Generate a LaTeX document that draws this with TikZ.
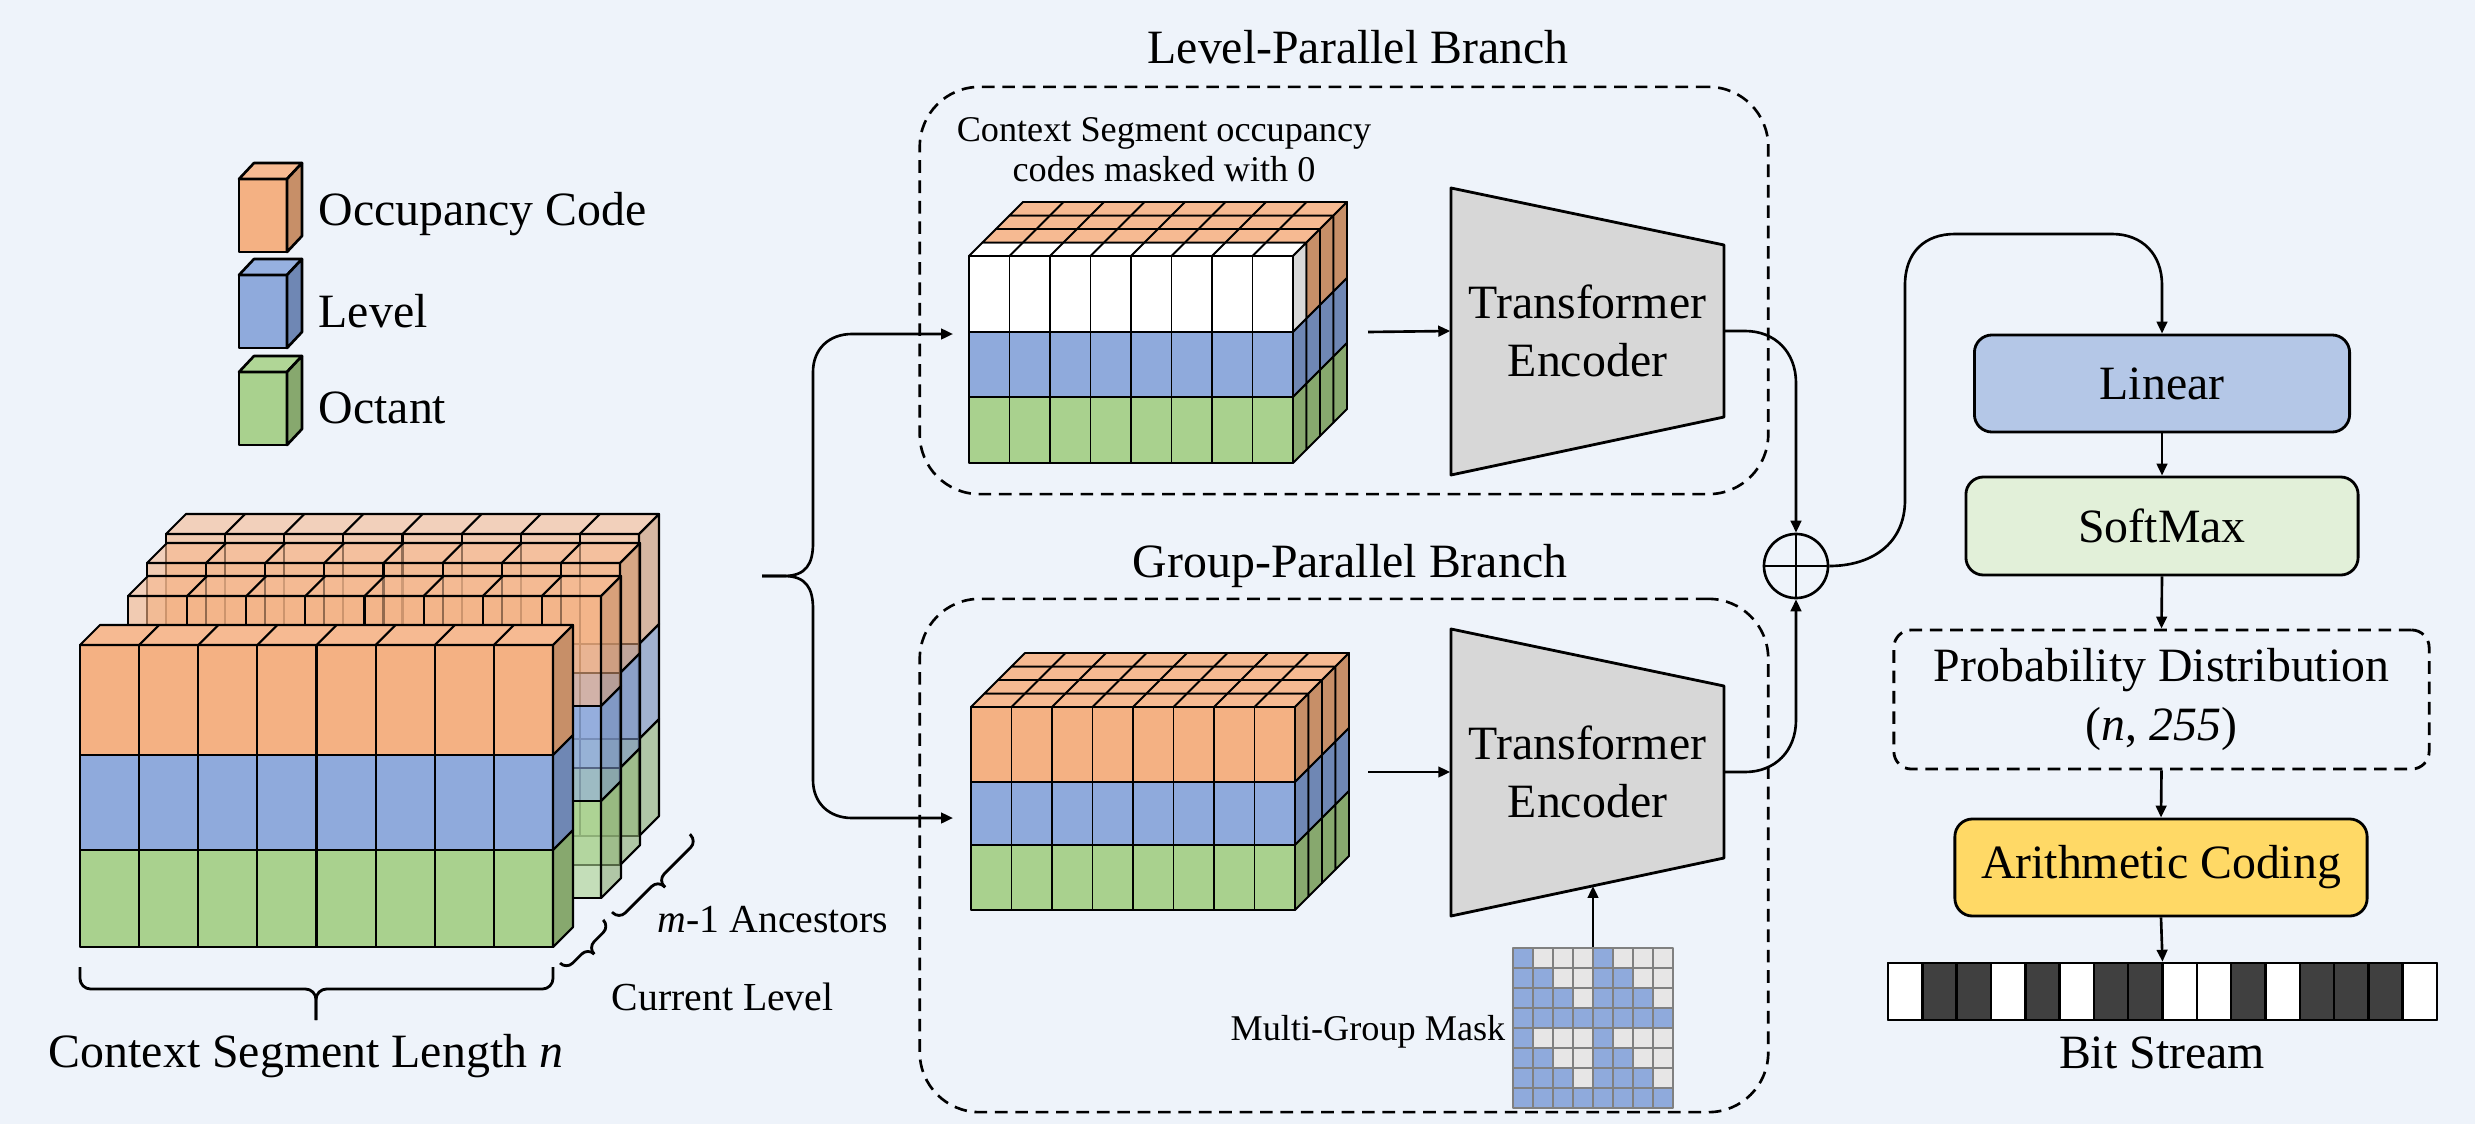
\documentclass[tikz,border=0pt]{standalone}
\usepackage{fontspec}
\setmainfont{Liberation Serif}
\usetikzlibrary{arrows.meta}

\definecolor{bg}{RGB}{238,243,250}
\definecolor{ocF}{RGB}{244,177,131}
\definecolor{ocT}{RGB}{246,186,146}
\definecolor{ocS}{RGB}{199,143,104}
\definecolor{lvF}{RGB}{143,170,220}
\definecolor{lvT}{RGB}{150,176,224}
\definecolor{lvS}{RGB}{111,135,180}
\definecolor{otF}{RGB}{169,209,142}
\definecolor{otT}{RGB}{176,214,150}
\definecolor{otS}{RGB}{135,168,110}
\definecolor{maskS}{RGB}{217,217,217}
\definecolor{linF}{RGB}{180,199,231}
\definecolor{smF}{RGB}{226,240,217}
\definecolor{acF}{RGB}{255,217,102}
\definecolor{encF}{RGB}{215,215,215}
\definecolor{bitD}{RGB}{64,64,64}
\definecolor{gridL}{RGB}{128,128,128}
\definecolor{mskB}{RGB}{143,170,220}
\definecolor{mskW}{RGB}{231,230,230}

\newcommand\txtL{\fontsize{13.6}{16.5}\selectfont}
\newcommand\txtM{\fontsize{11.3}{13.5}\selectfont}
\newcommand\txtS{\fontsize{10.3}{11.4}\selectfont}

% layer heights and colours of the occupancy layer (front slice)
\def\hA{110}\def\hB{95}\def\hC{97}
\def\topF{ocF}\def\topT{ocT}\def\topS{ocS}

% a block of columns: x0, y0 (top of front face), column width, columns, slice depth, slices
\newcommand\cubeblock[6]{%
  \pgfmathsetmacro\bxa{#1}%
  \pgfmathsetmacro\bya{#2}%
  \pgfmathsetmacro\bcw{#3}%
  \pgfmathtruncatemacro\bnc{#4}%
  \pgfmathsetmacro\bdd{#5}%
  \pgfmathtruncatemacro\bns{#6-1}%
  \pgfmathsetmacro\byb{\bya+\hA}%
  \pgfmathsetmacro\byc{\byb+\hB}%
  \pgfmathsetmacro\byd{\byc+\hC}%
  \pgfmathsetmacro\bxr{\bxa+\bnc*\bcw}%
  \pgfmathtruncatemacro\bncm{\bnc-1}%
  \filldraw[fill=\topF] (\bxa,\bya) rectangle (\bxr,\byb);
  \filldraw[fill=lvF] (\bxa,\byb) rectangle (\bxr,\byc);
  \filldraw[fill=otF] (\bxa,\byc) rectangle (\bxr,\byd);
  \foreach \ci in {1,...,\bncm} \draw ({\bxa+\ci*\bcw},\bya) -- ({\bxa+\ci*\bcw},\byd);
  \foreach \si in {0,...,\bns} {
    \ifnum\si=0 \edef\tfc{\topT}\edef\sfc{\topS}\else\def\tfc{ocT}\def\sfc{ocS}\fi
    \filldraw[fill=\tfc] ({\bxa+\si*\bdd},{\bya-\si*\bdd}) -- ({\bxr+\si*\bdd},{\bya-\si*\bdd})
      -- ({\bxr+(\si+1)*\bdd},{\bya-(\si+1)*\bdd}) -- ({\bxa+(\si+1)*\bdd},{\bya-(\si+1)*\bdd}) -- cycle;
    \foreach \ci in {1,...,\bncm} \draw ({\bxa+\ci*\bcw+\si*\bdd},{\bya-\si*\bdd}) -- ++(\bdd,-\bdd);
    \filldraw[fill=\sfc] ({\bxr+\si*\bdd},{\bya-\si*\bdd}) -- ({\bxr+(\si+1)*\bdd},{\bya-(\si+1)*\bdd})
      -- ({\bxr+(\si+1)*\bdd},{\byb-(\si+1)*\bdd}) -- ({\bxr+\si*\bdd},{\byb-\si*\bdd}) -- cycle;
    \filldraw[fill=lvS] ({\bxr+\si*\bdd},{\byb-\si*\bdd}) -- ({\bxr+(\si+1)*\bdd},{\byb-(\si+1)*\bdd})
      -- ({\bxr+(\si+1)*\bdd},{\byc-(\si+1)*\bdd}) -- ({\bxr+\si*\bdd},{\byc-\si*\bdd}) -- cycle;
    \filldraw[fill=otS] ({\bxr+\si*\bdd},{\byc-\si*\bdd}) -- ({\bxr+(\si+1)*\bdd},{\byc-(\si+1)*\bdd})
      -- ({\bxr+(\si+1)*\bdd},{\byd-(\si+1)*\bdd}) -- ({\bxr+\si*\bdd},{\byd-\si*\bdd}) -- cycle;
  }%
}

% single legend cube: x, y (top of front face), front, top, side colours
\newcommand\legendcube[5]{%
  \filldraw[fill=#3] (#1,#2) rectangle ++(48,73);
  \filldraw[fill=#4] (#1,#2) -- ++(15,-16) -- ++(48,0) -- ++(-15,16) -- cycle;
  \filldraw[fill=#5] ({#1+48},#2) -- ++(15,-16) -- ++(0,73) -- ++(-15,16) -- cycle;
}

% brace drawn along the local x axis, tip pointing to local +y
\newcommand\bracket[2]{%
  \draw[line width=0.8pt, rounded corners=2.5pt] (0,0) -- (0,{#2/2}) -- ({#1/2},{#2/2}) -- ({#1/2},#2);
  \draw[line width=0.8pt, rounded corners=2.5pt] (#1,0) -- (#1,{#2/2}) -- ({#1/2},{#2/2}) -- ({#1/2},#2);
}

\begin{document}
\begin{tikzpicture}[x=0.01cm,y=-0.01cm, line join=round,
  conn/.style={line width=0.75pt, -{Triangle[length=3.4pt,width=3pt]}},
  dbox/.style={draw, line width=0.75pt, dash pattern=on 3.6pt off 2.2pt, rounded corners=17pt, inner sep=0pt},
  rbox/.style={draw, line width=0.8pt, rounded corners=5pt, font=\txtL, inner sep=0pt},
  lbl/.style={font=\txtL, inner sep=0pt},
]
\useasboundingbox (0,0) rectangle (2475,1124);
\fill[bg] (0,0) rectangle (2475,1124);

% ---------- legend ----------
\begin{scope}[line width=0.75pt]
  \legendcube{239}{179}{ocF}{ocT}{ocS}
  \legendcube{239}{275}{lvF}{lvT}{lvS}
  \legendcube{239}{372}{otF}{otT}{otS}
\end{scope}
\node[lbl, anchor=base west] (lgoc) at (318,225) {Occupancy Code};
\node[lbl, anchor=base west] (lglv) at (318,327) {Level};
\node[lbl, anchor=base west] (lgot) at (318,423) {Octant};

% ---------- context segment: ancestors behind, current level in front ----------
\begin{scope}[line width=0.6pt, fill opacity=0.6]
  \cubeblock{166}{534}{59.125}{8}{20}{1}
  \cubeblock{147}{563}{59.125}{8}{20}{1}
  \cubeblock{128}{596}{59.125}{8}{20}{1}
\end{scope}
\begin{scope}[line width=0.6pt]
  \cubeblock{80}{645}{59.125}{8}{20}{1}
\end{scope}

% braces and labels of the context segment
\draw[line width=0.8pt, rounded corners=3pt] (80,967) -- (80,989) -- (316,989) -- (316,1020);
\draw[line width=0.8pt, rounded corners=3pt] (553,967) -- (553,989) -- (316,989) -- (316,1020);
\node[lbl, anchor=base] (seglen) at (306,1067) {Context Segment Length \textit{n}};
\begin{scope}[shift={(560,963)}, rotate=45]
  \bracket{61}{18}
\end{scope}
\begin{scope}[shift={(612,912)}, rotate=45]
  \bracket{110}{20}
\end{scope}
\node[font=\txtM, inner sep=0pt, anchor=base west] (curlbl) at (611,1010) {Current Level};
\node[font=\txtM, inner sep=0pt, anchor=base west] (anclbl) at (657,932) {\textit{m}-1 Ancestors};

% ---------- branch frames ----------
\node[dbox, minimum width=8.48cm, minimum height=4.07cm] (lpb) at (1344,290.5) {};
\node[dbox, minimum width=8.48cm, minimum height=5.13cm] (gpb) at (1344,855.5) {};
\node[lbl, anchor=base] (lptitle) at (1358,63) {Level-Parallel Branch};
\node[lbl, anchor=base] (gptitle) at (1350,577) {Group-Parallel Branch};
\node[font=\txtS, align=center, inner sep=0pt] (ctxlbl) at (1164,150) {Context Segment occupancy\\codes masked with 0};

% level-parallel input: current level occupancy masked
\begin{scope}[line width=0.55pt]
  \def\hA{76}\def\hB{65}\def\hC{66}
  \def\topF{white}\def\topT{white}\def\topS{maskS}
  \cubeblock{969}{256}{40.5}{8}{13.5}{4}
\end{scope}
% group-parallel input
\begin{scope}[line width=0.55pt]
  \def\hA{75}\def\hB{63}\def\hC{65}
  \cubeblock{971}{707}{40.5}{8}{13.5}{4}
\end{scope}

% transformer encoders
\filldraw[fill=encF, line width=0.8pt] (1451,188) -- (1724,245) -- (1724,417) -- (1451,475) -- cycle;
\filldraw[fill=encF, line width=0.8pt] (1451,629) -- (1724,686) -- (1724,858) -- (1451,916) -- cycle;
\node[lbl, align=center, minimum width=2.73cm] (enc1) at (1587.5,331) {Transformer\\Encoder};
\node[lbl, align=center, minimum width=2.73cm] (enc2) at (1587.5,772) {Transformer\\Encoder};
\coordinate (enc2bot) at (1593,886);

% multi-group mask: 8x8 cells, blue where (col mod 4) <= (row mod 4)
\node[minimum size=1.6cm, inner sep=0pt] (mask) at (1593,1028) {};
\foreach \rr in {0,...,7} {
  \foreach \cc in {0,...,7} {
    \pgfmathtruncatemacro\isblue{mod(\cc,4)<=mod(\rr,4) ? 1 : 0}
    \ifnum\isblue=1 \def\mc{mskB}\else\def\mc{mskW}\fi
    \fill[\mc] ({1513+\cc*20},{948+\rr*20}) rectangle ++(20,20);
  }
}
\foreach \gi in {1,...,7} {
  \draw[gridL, line width=0.5pt] ({1513+\gi*20},948) -- ++(0,160);
  \draw[gridL, line width=0.5pt] (1513,{948+\gi*20}) -- ++(160,0);
}
\draw[gridL, line width=0.6pt] (1513,948) rectangle (1673,1108);
\node[font=\txtS, inner sep=0pt, anchor=base east] (masklbl) at (1506,1040) {Multi-Group Mask};

% ---------- connectors inside the branches ----------
\coordinate (segtip) at (762,576);
\coordinate (cube1in) at (953,334);
\coordinate (cube2in) at (953,818);
\coordinate (cube1out) at (1368,332);
\coordinate (cube2out) at (1368,772);
\draw[conn] (segtip) -- (784,576) .. controls (806,576) and (813,564) .. (813,543)
  -- (813,372) .. controls (813,349) and (829,334) .. (852,334) -- (cube1in);
\draw[conn] (segtip) -- (784,576) .. controls (806,576) and (813,588) .. (813,609)
  -- (813,780) .. controls (813,803) and (829,818) .. (852,818) -- (cube2in);
\draw[conn] (cube1out) -- (enc1.west);
\draw[conn] (cube2out) -- (enc2.west);
\draw[conn] (mask.north) -- (enc2bot);

% ---------- fusion ----------
\node[circle, draw, line width=0.75pt, minimum size=0.64cm, inner sep=0pt] (plus) at (1796,566) {};
\draw[line width=0.75pt] (plus.north) -- (plus.south) (plus.west) -- (plus.east);
\draw[conn] (enc1.east) -- (1745,331) .. controls (1775,331) and (1796,352) .. (1796,383) -- (plus.north);
\draw[conn] (enc2.east) -- (1745,772) .. controls (1775,772) and (1796,751) .. (1796,720) -- (plus.south);

% ---------- output head ----------
\node[rbox, fill=linF, minimum width=3.75cm, minimum height=0.97cm] (lin) at (2162,383.5) {Linear};
\node[rbox, fill=smF, minimum width=3.92cm, minimum height=0.98cm] (sm) at (2162,526) {SoftMax};
\node[rbox, dash pattern=on 3.6pt off 2.2pt, align=center, minimum width=5.35cm, minimum height=1.39cm] (prob) at (2161.5,699.5) {Probability Distribution\\(\textit{n}, \textit{255})};
\node[rbox, fill=acF, minimum width=4.12cm, minimum height=0.97cm] (arith) at (2161,867.5) {Arithmetic Coding};
\node[draw, line width=0.7pt, minimum width=5.49cm, minimum height=0.57cm, inner sep=0pt] (bits) at (2162.5,991.5) {};
\foreach \bv [count=\bn from 0] in {0,1,1,0,1,0,1,1,0,0,1,0,1,1,1,0} {
  \ifnum\bv=1 \def\bc{bitD}\else\def\bc{white}\fi
  \filldraw[fill=\bc, line width=0.7pt] ({1888+\bn*34.3125},963) rectangle ++(34.3125,57);
}
\node[lbl, anchor=base] (bitlbl) at (2162,1068) {Bit Stream};

\draw[conn] (plus.east) .. controls (1870,566) and (1905,545) .. (1905,500) -- (1905,285)
  .. controls (1905,252) and (1925,234) .. (1955,234) -- (2112,234)
  .. controls (2142,234) and (2162,254) .. (2162,285) -- (lin.north);
\draw[conn] (lin.south) -- (sm.north);
\draw[conn] (sm.south) -- (prob.north);
\draw[conn] (prob.south) -- (arith.north);
\draw[conn] (arith.south) -- (bits.north);
\end{tikzpicture}
\end{document}
